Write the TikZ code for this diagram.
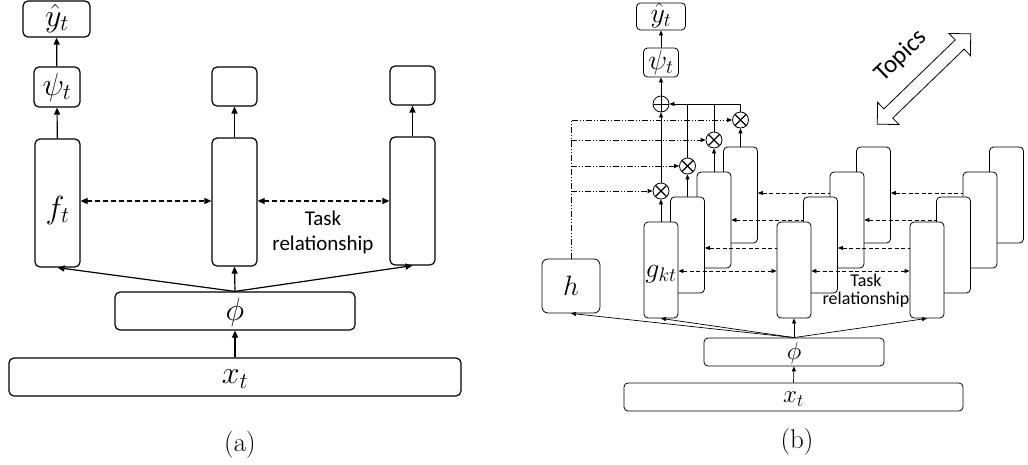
\RequirePackage{fix-cm}
\documentclass[tikz,border=0pt]{standalone}
\usepackage{fontspec}
\newfontfamily\carlito{Carlito}
\usetikzlibrary{arrows.meta,shapes.arrows,calc}
\begin{document}
\begin{tikzpicture}[x=1pt,y=-1pt,
  box/.style={draw, rounded corners=5pt, line width=1.2pt, inner sep=0pt, fill=white},
  bbox/.style={draw, rounded corners=4pt, line width=0.8pt, inner sep=0pt, fill=white},
  arA/.style={line width=1.2pt, -{Triangle[length=7pt,width=6pt]}},
  darA/.style={line width=1.2pt, dash pattern=on 5pt off 3pt, {Triangle[length=7pt,width=6pt]}-{Triangle[length=7pt,width=6pt]}},
  arB/.style={line width=0.7pt, -{Triangle[length=5pt,width=4pt]}},
  lnB/.style={line width=0.7pt},
  darB/.style={line width=0.8pt, dash pattern=on 4pt off 2.5pt, {Triangle[length=5pt,width=4pt]}-{Triangle[length=5pt,width=4pt]}},
  ddB/.style={line width=0.8pt, dash pattern=on 6pt off 2pt on 1pt off 2pt on 1pt off 2pt, -{Triangle[length=5pt,width=4pt]}},
  mth/.style={font=\fontsize{32}{36}\selectfont, inner sep=0pt},
  mthb/.style={font=\fontsize{28}{32}\selectfont, inner sep=0pt},
  mthc/.style={font=\fontsize{25}{28}\selectfont, inner sep=0pt},
  circ/.style={draw, circle, line width=0.8pt, minimum size=16pt, inner sep=0pt, fill=white},
  plusc/.style={circ, path picture={\draw[line width=0.8pt] (path picture bounding box.north) -- (path picture bounding box.south) (path picture bounding box.west) -- (path picture bounding box.east);}},
  timesc/.style={circ, path picture={\draw[line width=1.3pt] ([shift={(2.5,2.5)}]path picture bounding box.north west) -- ([shift={(-2.5,-2.5)}]path picture bounding box.south east) ([shift={(-2.5,2.5)}]path picture bounding box.north east) -- ([shift={(2.5,-2.5)}]path picture bounding box.south west);}},
  txtA/.style={font=\carlito\fontsize{21}{25}\selectfont, align=center, inner sep=0pt},
  txtB/.style={font=\carlito\fontsize{18}{18}\selectfont, align=center, inner sep=0pt},
  captxt/.style={font=\fontsize{27}{30}\selectfont, inner sep=0pt}
]
\useasboundingbox (0,0) rectangle (1028,464);

% ---------------- panel (a)
\node[box, minimum width=67pt, minimum height=36pt] (ya) at (56.5,19) {};
\node[mth] (yal) at (57,18) {$\hat{y}_t$};
\node[box, minimum width=46pt, minimum height=40pt] (psia) at (57,87) {};
\node[mth] (psial) at (57,87) {$\psi_t$};
\node[box, minimum width=45pt, minimum height=128pt] (fa) at (57.5,203) {};
\node[mth] (fal) at (57.5,210) {$f_t$};
\node[box, minimum width=45pt, minimum height=128pt] (mb) at (234.5,202) {};
\node[box, minimum width=45pt, minimum height=128pt] (rb) at (412.5,201) {};
\node[box, minimum width=45pt, minimum height=39pt] (ms) at (234.5,86.5) {};
\node[box, minimum width=45pt, minimum height=39pt] (rs) at (412.5,85.5) {};
\node[box, minimum width=240pt, minimum height=38pt] (phia) at (235,311) {};
\node[mth] (phial) at (235,312) {$\phi$};
\node[box, minimum width=452pt, minimum height=38pt] (xa) at (235,377) {};
\node[mth] (xal) at (235,379) {$x_t$};

\draw[arA] (psia) -- (ya);
\draw[arA] (fa) -- (psia);
\draw[arA] (mb) -- (ms);
\draw[arA] (rb) -- (rs);
\draw[arA] (xa.north) -- (phia.south);
\draw[arA] (phia.north) -- (fa.south);
\draw[arA] (phia.north) -- (mb.south);
\draw[arA] (phia.north) -- (rb.south);
\draw[darA] (fa.east |- 0,201) -- (mb.west |- 0,201);
\draw[darA] (mb.east |- 0,201) -- (rb.west |- 0,201);
\node[txtA] (tra) at (323,232) {Task\\relationship};
\node[captxt] (capa) at (240,445) {(a)};

% ---------------- panel (b)
\node[bbox, minimum width=49pt, minimum height=27pt] (yb) at (661,16.5) {};
\node[mthb] (ybl) at (661,15) {$\hat{y}_t$};
\node[bbox, minimum width=35pt, minimum height=29pt] (psib) at (661,62.5) {};
\node[mthb] (psibl) at (661,62.5) {$\psi_t$};
\node[plusc] (plus) at (661,104) {};
\node[timesc] (t0) at (661,191) {};
\node[timesc] (t1) at (687.5,166) {};
\node[timesc] (t2) at (714,140) {};
\node[timesc] (t3) at (740.5,120) {};

\foreach \l/\dy in {3/193,2/220,1/248,0/271} {
  \foreach \g in {0,1,2} {
    \node[bbox, minimum width=34pt, minimum height=96pt] (b\g\l) at ({661+133*\g+26.5*\l},{270-25*\l}) {};
  }
  \draw[darB] (b0\l.east |- 0,\dy) -- (b1\l.west |- 0,\dy);
  \draw[darB] (b1\l.east |- 0,\dy) -- (b2\l.west |- 0,\dy);
}
\node[mthb] (gl) at (661,274) {$g_{kt}$};

\foreach \l in {0,1,2,3} {
  \draw[arB] (b0\l.north) -- (t\l.south);
}
\draw[arB] (t0.north) -- (plus.south);
\draw[lnB] (t1.north) -- (t1.north |- plus.center);
\draw[lnB] (t2.north) -- (t2.north |- plus.center);
\draw[arB] (t3.north) |- (plus.east);
\draw[arB] (plus.north) -- (psib.south);
\draw[arB] (psib.north) -- (yb.south);

\node[bbox, minimum width=58pt, minimum height=54pt, rounded corners=6pt] (h) at (571,286) {};
\node[mthb] (hl) at (571,286) {$h$};
\draw[ddB] (h.north) |- (t3.west);
\draw[ddB] (h.north |- t2.west) -- (t2.west);
\draw[ddB] (h.north |- t1.west) -- (t1.west);
\draw[ddB] (h.north |- t0.west) -- (t0.west);

\node[bbox, minimum width=180pt, minimum height=28pt] (phib) at (794,352) {};
\node[mthc] (phibl) at (794,353) {$\phi$};
\node[bbox, minimum width=339pt, minimum height=28pt] (xb) at (793.5,397) {};
\node[mthc] (xbl) at (793.5,399) {$x_t$};
\draw[arB] (xb.north) -- (phib.south);
\draw[arB] (phib.north) -- (h.south);
\draw[arB] (phib.north) -- (b00.south);
\draw[arB] (phib.north) -- (b10.south);
\draw[arB] (phib.north) -- (b20.south);

\node[txtB] (trb) at (866,291) {Task\\relationship};

\node[draw, double arrow, double arrow head extend=9pt, inner xsep=0pt, inner ysep=6pt, minimum height=130pt, line width=0.8pt, rotate=44] (topar) at (924,79) {};
\node[rotate=44, font=\carlito\fontsize{25}{25}\selectfont, inner sep=0pt] (topics) at (901,56) {Topics};

\node[captxt] (capb) at (797,442) {(b)};
\end{tikzpicture}
\end{document}
